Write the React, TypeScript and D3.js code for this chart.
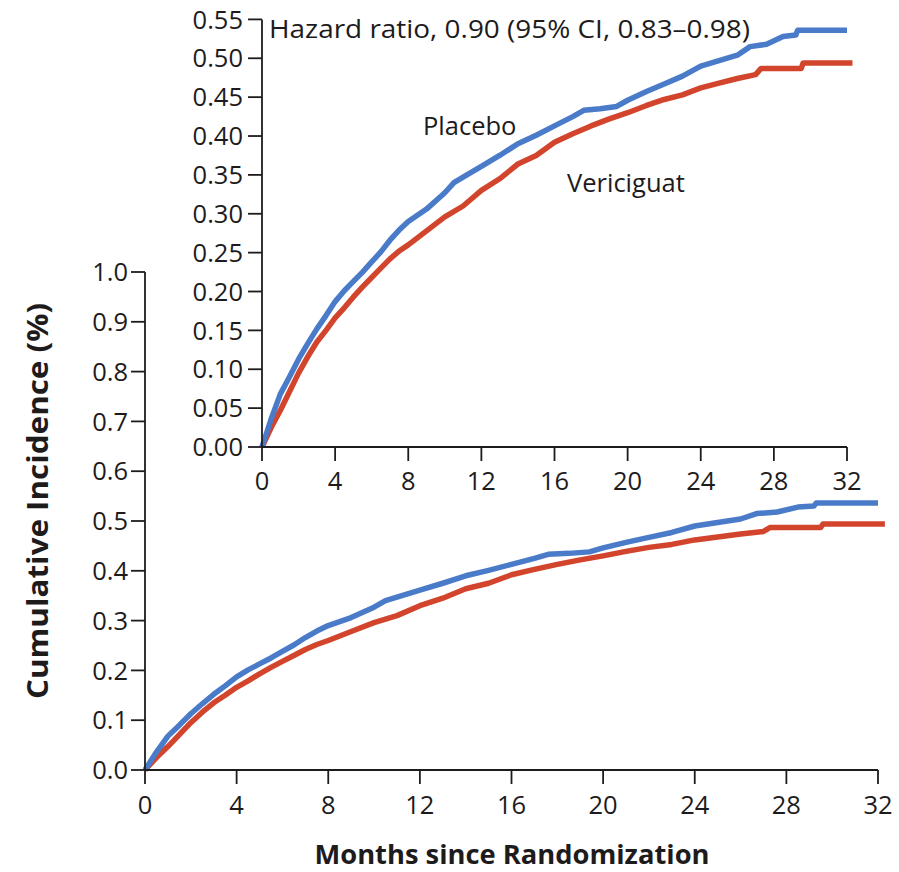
import React from "react";
import * as d3 from "d3";

const months = [0, 4, 8, 12, 16, 20, 24, 28, 32];
const mainYTicks = [0, 0.1, 0.2, 0.3, 0.4, 0.5, 0.6, 0.7, 0.8, 0.9, 1.0];
const insetYTicks = [0, 0.05, 0.1, 0.15, 0.2, 0.25, 0.3, 0.35, 0.4, 0.45, 0.5, 0.55];

const placeboT = [0, 0.5, 1, 1.5, 2, 2.5, 3, 3.5, 4, 4.5, 5, 5.5, 6, 6.5, 7, 7.5, 8, 9, 10, 10.5, 11, 12, 13, 14, 15, 16, 17, 17.6, 18.5, 19.4, 20, 21, 22, 23, 24, 25, 26, 26.7, 27.6, 28.5, 29.2, 29.3, 32];
const placeboV = [0, 0.036, 0.068, 0.09, 0.113, 0.133, 0.152, 0.169, 0.187, 0.201, 0.213, 0.225, 0.238, 0.251, 0.266, 0.279, 0.29, 0.306, 0.327, 0.34, 0.347, 0.361, 0.375, 0.39, 0.401, 0.413, 0.425, 0.433, 0.435, 0.438, 0.446, 0.457, 0.467, 0.477, 0.49, 0.497, 0.504, 0.515, 0.518, 0.528, 0.53, 0.536, 0.536];

const vericiguatT = [0, 0.5, 1, 1.5, 2, 2.5, 3, 3.5, 4, 4.5, 5, 5.5, 6, 6.5, 7, 7.5, 8, 9, 10, 11, 12, 13, 14, 15, 16, 17, 18, 19, 20, 21, 22, 23, 24, 25, 26, 27, 27.3, 29.5, 29.6, 32.3];
const vericiguatV = [0, 0.025, 0.047, 0.071, 0.095, 0.116, 0.135, 0.15, 0.166, 0.179, 0.193, 0.206, 0.218, 0.23, 0.242, 0.252, 0.26, 0.278, 0.296, 0.31, 0.33, 0.345, 0.364, 0.375, 0.392, 0.403, 0.413, 0.422, 0.43, 0.439, 0.447, 0.453, 0.462, 0.468, 0.474, 0.479, 0.487, 0.487, 0.494, 0.494];

const BLUE = "#4a7bc8";
const RED = "#d2452c";
const INK = "#1e1b1c";
const FONT = "'Open Sans', 'Liberation Sans', Arial, sans-serif";

type Pt = [number, number];
const placebo: Pt[] = placeboT.map((t, i) => [t, placeboV[i]]);
const vericiguat: Pt[] = vericiguatT.map((t, i) => [t, vericiguatV[i]]);

function Panel(props: {
  x0: number; x1: number; y0: number; y1: number; yMax: number;
  yTicks: number[]; yFmt: (v: number) => string; tick: number; labelGapY: number; labelGapX: number;
}) {
  const { x0, x1, y0, y1, yMax, yTicks, yFmt, tick, labelGapY, labelGapX } = props;
  const x = d3.scaleLinear().domain([0, 32]).range([x0, x1]);
  const y = d3.scaleLinear().domain([0, yMax]).range([y0, y1]);
  const line = d3.line<Pt>().x((d) => x(d[0])).y((d) => y(d[1])).curve(d3.curveLinear);
  return (
    <g>
      <path d={line(vericiguat) || ""} fill="none" stroke={RED} strokeWidth={5.5} strokeLinejoin="round" />
      <path d={line(placebo) || ""} fill="none" stroke={BLUE} strokeWidth={5.5} strokeLinejoin="round" />
      <line x1={x0} x2={x0} y1={y(yMax)} y2={y0} stroke={INK} strokeWidth={1.8} />
      <line x1={x0} x2={x(32)} y1={y0} y2={y0} stroke={INK} strokeWidth={1.8} />
      {yTicks.map((v) => (
        <g key={"y" + v}>
          <line x1={x0 - tick} x2={x0} y1={y(v)} y2={y(v)} stroke={INK} strokeWidth={1.8} />
          <text x={x0 - labelGapY} y={y(v)} dy="0.36em" textAnchor="end" fontSize={25.5} fill={INK} fontFamily={FONT}>
            {yFmt(v)}
          </text>
        </g>
      ))}
      {months.map((m) => (
        <g key={"x" + m}>
          <line x1={x(m)} x2={x(m)} y1={y0} y2={y0 + tick} stroke={INK} strokeWidth={1.8} />
          <text x={x(m)} y={y0 + labelGapX} textAnchor="middle" fontSize={25.5} fill={INK} fontFamily={FONT}>
            {m}
          </text>
        </g>
      ))}
    </g>
  );
}

export default function App() {
  return (
    <svg width={899} height={872} style={{ position: "absolute", left: 0, top: 0, background: "#fff" }}>
      <rect width={899} height={872} fill="#fff" />
      <Panel x0={145} x1={878} y0={770} y1={272} yMax={1.0} yTicks={mainYTicks} yFmt={d3.format(".1f")} tick={14} labelGapY={17} labelGapX={44} />
      <Panel x0={262} x1={847} y0={447} y1={19.4} yMax={0.55} yTicks={insetYTicks} yFmt={d3.format(".2f")} tick={14} labelGapY={19} labelGapX={43} />
      <text x={269} y={38} fontSize={25.5} fill={INK} fontFamily={FONT} textLength={481} lengthAdjust="spacingAndGlyphs">
        Hazard ratio, 0.90 (95% CI, 0.83–0.98)
      </text>
      <text x={423} y={135} fontSize={25.5} fill={INK} fontFamily={FONT}>Placebo</text>
      <text x={567} y={192} fontSize={25.5} fill={INK} fontFamily={FONT}>Vericiguat</text>
      <text x={512} y={864} textAnchor="middle" fontSize={27} fontWeight="bold" fill={INK} fontFamily={FONT} textLength={395} lengthAdjust="spacingAndGlyphs">
        Months since Randomization
      </text>
      <text transform="translate(48,501) rotate(-90)" textAnchor="middle" fontSize={28} fontWeight="bold" fill={INK} fontFamily={FONT} textLength={396} lengthAdjust="spacingAndGlyphs">
        Cumulative Incidence (%)
      </text>
    </svg>
  );
}
